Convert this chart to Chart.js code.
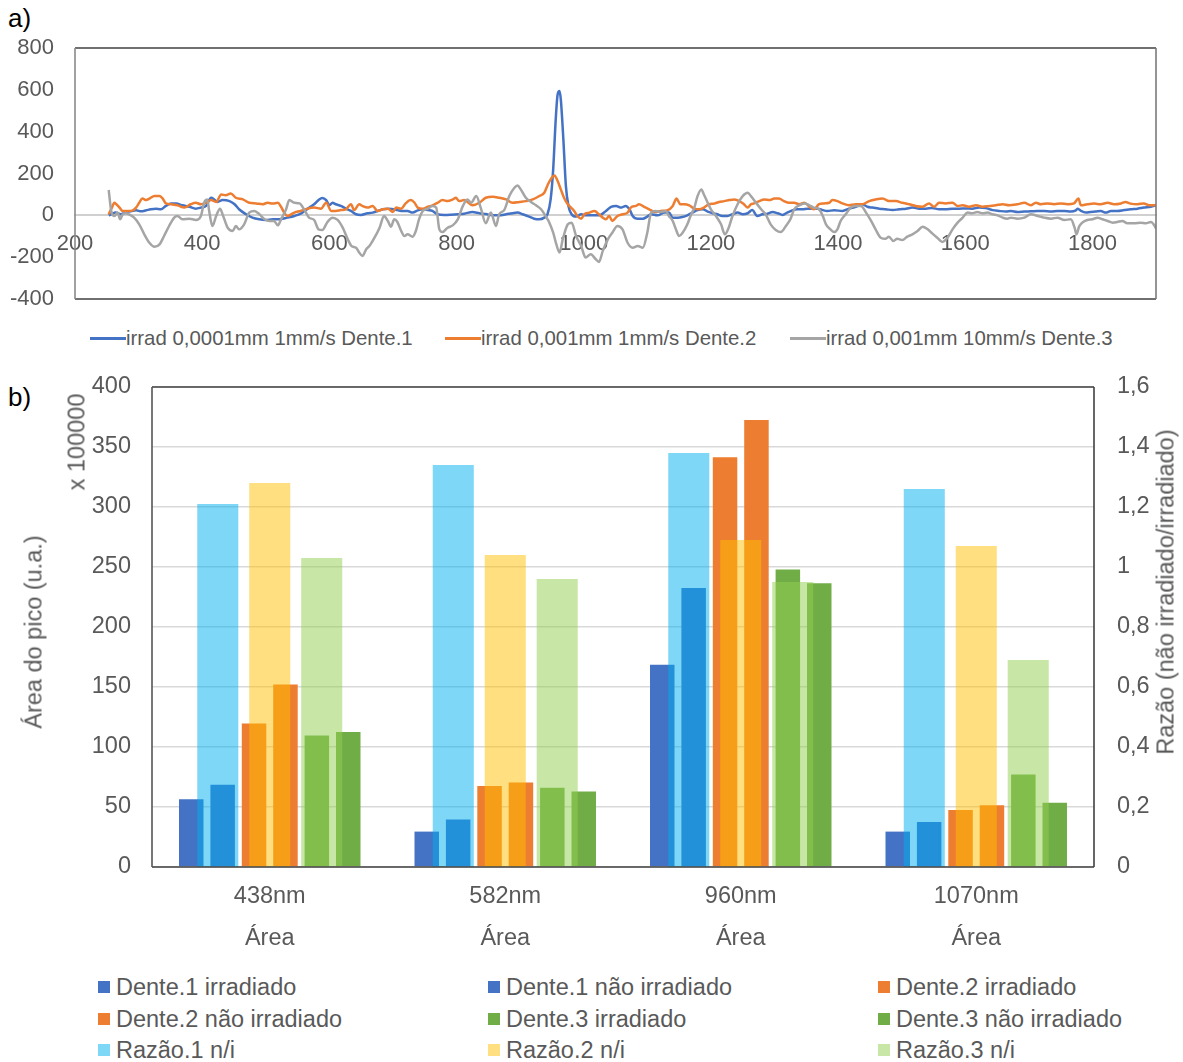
<!DOCTYPE html>
<html>
<head>
<meta charset="utf-8">
<title>Espectros e áreas dos picos</title>
<script src="https://cdn.jsdelivr.net/npm/chart.js@4.4.1/dist/chart.umd.min.js"></script>
<style>
  body { margin: 0; background: #fff; }
  #wrap { position: relative; width: 1183px; height: 1062px; overflow: hidden;
          font-family: "Liberation Sans", Arial, sans-serif; color: #595959; }
  #wrap canvas { position: absolute; left: 0; }
  .panel { position: absolute; left: 8px; font-size: 26px; line-height: 26px; color: #000; }
  .rot { position: absolute; white-space: nowrap; transform: translate(-50%, -50%) rotate(-90deg); }
  .lg { position: absolute; white-space: nowrap; }
  .lgLine { position: absolute; height: 3px; }
  .lgBox { position: absolute; width: 12px; height: 12px; }
</style>
</head>
<body>
<div id="wrap">
  <div class="panel" style="top:5px">a)</div>
  <canvas id="spectra" width="1183" height="320" style="top:0"></canvas>
  <div id="legendA"></div>

  <div class="panel" style="top:384px">b)</div>
  <canvas id="areas" width="1183" height="600" style="top:360px"></canvas>
  <canvas id="ratios" width="1183" height="600" style="top:360px"></canvas>
  <div class="rot" style="left:34px; top:632px; font-size:23.5px">Área do pico (u.a.)</div>
  <div class="rot" style="left:77px; top:442px; font-size:23.5px">x 100000</div>
  <div class="rot" style="left:1166px; top:592px; font-size:23.5px">Razão (não irradiado/irradiado)</div>
  <div id="legendB"></div>
</div>

<script>
// ---- a) spectra: [wavenumber, intensity] ----
const dente1Spectrum = [
  [253,0],[257,5],[264,13],[272,5],[280,16],[288,19],[296,24],[304,19],[312,24],[319,29],[327,32],[335,29],
  [343,45],[351,56],[359,56],[369,48],[380,41],[390,32],[398,37],[406,45],[414,84],[419,76],[424,64],[432,73],
  [443,68],[451,53],[458,29],[469,5],[479,-11],[490,-19],[500,-22],[511,-19],[521,-19],
  [534,-11],[545,-3],[555,8],[566,32],[576,53],[584,76],[589,83],[595,73],[600,48],[605,60],[610,53],[618,45],
  [626,32],[634,21],[642,5],[650,2],[660,10],[668,13],[676,21],[684,29],[692,32],[700,29],[707,25],[715,21],
  [723,21],[731,13],[739,24],[747,29],[755,25],[762,21],[770,5],[781,2],[791,3],[802,5],[812,8],
  [825,16],[836,10],[846,6],[857,0],[867,0],[878,5],[888,10],[896,13],[904,5],[914,-6],[922,-16],[930,-19],
  [938,-11],[943,5],[948,76],[952,220],[956,459],[959,578],[962,594],[964,554],[968,363],[972,140],[976,45],
  [981,5],[988,-6],[996,5],[1003,0],[1014,0],[1024,0],[1035,21],[1043,41],[1051,45],[1059,37],[1066,45],
  [1072,29],[1077,-3],[1085,-16],[1093,-16],[1100,-6],
  [1106,5],[1116,0],[1127,13],[1134,13],[1140,-11],[1148,-11],[1155,-8],[1163,0],[1171,13],[1179,25],[1187,29],
  [1195,18],[1203,10],[1210,5],[1218,-3],[1226,-3],[1234,5],[1242,13],[1250,5],[1258,10],[1265,25],[1273,-3],
  [1281,5],[1289,8],[1297,16],[1305,10],[1313,2],[1320,13],[1328,24],[1336,29],[1344,29],[1352,32],[1360,32],
  [1368,32],[1376,25],[1383,21],[1394,24],
  [1407,21],[1417,32],[1428,41],[1438,53],[1446,41],[1454,37],[1465,32],[1475,29],[1486,25],[1496,29],[1507,32],
  [1517,37],[1528,32],[1538,32],[1548,35],[1559,29],[1569,29],[1580,32],[1590,32],[1601,33],[1611,32],[1622,37],
  [1632,35],[1643,25],[1653,21],[1664,18],
  [1672,21],[1682,16],[1693,18],[1703,19],[1714,21],[1724,21],[1735,18],[1745,21],[1756,21],[1766,18],[1774,24],
  [1777,32],[1782,21],[1790,13],[1797,16],[1805,18],[1813,21],[1821,13],[1829,21],[1839,21],[1850,25],[1860,29],
  [1871,32],[1881,37],[1892,41],[1900,48]
];

const dente2Spectrum = [
  [253,5],[258,37],[262,60],[265,53],[270,37],[275,21],[283,21],[291,24],[296,37],[301,60],[306,80],[312,73],
  [317,80],[325,92],[333,92],[338,80],[343,57],[351,53],[361,48],[372,37],[382,53],[390,60],[398,53],[406,60],
  [414,73],[422,64],[430,100],[437,96],[445,104],[453,84],[464,76],[474,60],[485,57],[495,53],[503,60],[511,56],
  [519,60],
  [524,41],[529,13],[534,-3],[545,13],[555,21],[566,32],[576,37],[587,32],[595,60],[603,21],[610,21],[618,25],
  [626,29],[634,53],[639,25],[647,53],[652,45],[660,37],[668,45],[676,21],[684,29],[692,32],[700,16],[705,37],
  [713,32],[720,57],[728,73],[734,60],[739,37],[747,32],[755,41],[762,48],[770,60],[778,73],[786,68],[794,76],
  [799,84],[804,68],[812,73],
  [825,48],[836,60],[846,84],[857,89],[867,84],[878,76],[888,60],[899,64],[909,68],[920,76],[930,92],[938,108],
  [943,143],[948,172],[954,191],[959,164],[964,124],[969,84],[975,53],[980,37],[985,21],[990,-3],[996,-16],
  [1001,5],[1009,13],[1017,21],[1024,5],[1030,-11],[1035,-19],[1040,-3],[1045,-27],[1053,-3],[1061,5],[1069,13],
  [1074,37],[1082,45],[1087,53],[1095,41],[1103,29],
  [1113,16],[1121,21],[1132,25],[1140,45],[1146,80],[1152,53],[1158,53],[1166,48],[1174,32],[1182,29],[1189,37],
  [1197,53],[1205,56],[1213,64],[1221,68],[1229,73],[1237,76],[1245,68],[1252,53],[1258,37],[1263,53],[1268,57],
  [1276,68],[1284,76],[1292,73],[1300,80],[1307,80],[1315,68],[1323,60],[1331,60],[1339,53],[1347,60],[1355,41],
  [1362,29],[1370,53],[1378,57],[1386,60],[1391,73],[1399,68],
  [1407,57],[1417,48],[1428,53],[1438,53],[1449,68],[1459,76],[1470,81],[1480,68],[1491,68],[1501,60],[1512,53],
  [1522,45],[1533,41],[1543,57],[1551,41],[1559,60],[1569,57],[1580,60],[1588,45],[1596,48],[1606,41],[1617,48],
  [1627,41],[1638,45],[1648,48],[1659,53],[1669,48],
  [1682,53],[1693,60],[1703,48],[1711,60],[1719,53],[1729,57],[1740,53],[1750,57],[1761,53],[1771,57],[1778,80],
  [1782,48],[1792,53],[1803,56],[1813,53],[1824,60],[1834,53],[1845,57],[1852,64],[1860,56],[1871,53],[1881,57],
  [1889,48],[1900,48]
];

const dente3Spectrum = [
  [253,121],[257,21],[262,-3],[267,13],[271,-19],[275,5],[280,10],[285,5],[293,-11],[301,-43],[309,-91],[317,-131],
  [325,-150],[333,-139],[340,-99],[348,-51],[356,-11],[361,-3],[369,-19],[380,-16],[390,-22],[398,-3],[403,60],
  [408,76],[411,21],[416,-51],[422,-3],[428,32],[433,-3],[440,-59],[448,-75],[453,-51],[458,-67],[466,-43],
  [474,13],[482,21],[490,5],[498,-19],[506,-27],[513,-27],[519,-48],
  [524,-19],[532,29],[537,73],[545,60],[553,57],[561,25],[568,-11],[576,-22],[583,-67],[589,-70],[597,-32],
  [605,-11],[613,-22],[621,-59],[629,-115],[635,-147],[642,-155],[647,-178],[652,-194],[658,-162],[663,-147],
  [671,-107],[679,-59],[686,-3],[692,-27],[697,-54],[702,-19],[707,-32],[713,-75],[718,-99],[723,-91],[731,-102],
  [736,-75],[741,-19],[747,21],[755,32],[762,45],[768,37],[773,-67],[778,-80],[786,-59],[794,-48],[802,-19],
  [810,45],[817,76],[823,60],
  [831,92],[838,37],[846,-38],[854,13],[862,-51],[867,5],[875,25],[883,92],[891,132],[896,143],[901,124],[909,84],
  [917,64],[925,48],[933,29],[940,-3],[946,-35],[952,-83],[957,-139],[962,-178],[967,-115],[975,-43],[981,-35],
  [988,-99],[996,-147],[1003,-202],[1011,-186],[1019,-210],[1024,-223],[1030,-170],[1038,-115],[1045,-83],
  [1053,-51],[1061,-67],[1069,-131],[1077,-155],[1085,-147],[1093,-155],[1100,-83],
  [1106,13],[1113,21],[1121,16],[1129,21],[1134,-3],[1140,-27],[1145,-67],[1150,-99],[1155,-86],[1163,-43],
  [1168,-3],[1174,37],[1179,92],[1185,124],[1189,100],[1195,60],[1200,29],[1208,-3],[1216,-43],[1222,-91],
  [1227,-67],[1234,-3],[1242,53],[1250,92],[1258,108],[1263,92],[1271,60],[1279,29],[1286,5],[1294,-43],
  [1302,-70],[1310,-80],[1318,-51],[1325,-19],[1331,29],[1339,48],[1347,57],[1355,48],[1362,37],[1370,29],
  [1376,-3],[1381,-43],[1388,-67],[1394,-80],[1399,-67],
  [1404,-27],[1412,5],[1420,37],[1428,45],[1436,45],[1444,13],[1452,-27],[1459,-67],[1467,-107],[1475,-112],
  [1480,-102],[1487,-123],[1493,-112],[1501,-118],[1509,-102],[1517,-91],[1525,-75],[1533,-54],[1541,-67],
  [1548,-86],[1556,-107],[1564,-127],[1572,-107],[1580,-67],[1588,-35],[1596,-11],[1604,13],[1611,10],[1619,16],
  [1627,10],[1635,13],[1643,5],[1651,0],[1659,-11],[1666,-16],
  [1672,-11],[1682,-16],[1693,-11],[1703,5],[1714,-3],[1724,-11],[1735,-16],[1745,-11],[1756,-22],[1766,-19],
  [1772,-59],[1775,-91],[1779,-54],[1784,-35],[1792,-22],[1800,-19],[1808,-11],[1816,-19],[1824,-27],[1832,-35],
  [1839,-32],[1847,-27],[1855,-38],[1866,-38],[1876,-35],[1884,-38],[1892,-32],[1898,-51],[1900,-64]
];

const spectrumNames = ['irrad 0,0001mm 1mm/s Dente.1', 'irrad 0,001mm 1mm/s Dente.2', 'irrad 0,001mm 10mm/s Dente.3'];
const spectrumColors = ['#4472C4', '#ED7D31', '#A5A5A5'];

// ---- b) peak areas (x 100000) and ratios ----
const categories = ['438nm', '582nm', '960nm', '1070nm'];
const groupLabel = 'Área';

const dente1Irradiado    = [56.5, 29.5, 168.5, 29.5];
const dente1NaoIrradiado = [68.5, 39.5, 232.5, 37.5];
const dente2Irradiado    = [119.5, 67.5, 341.5, 47.5];
const dente2NaoIrradiado = [152, 70.5, 372.5, 51.5];
const dente3Irradiado    = [109.5, 66, 248, 77];
const dente3NaoIrradiado = [112.5, 63, 236.5, 53.5];

const razao1 = [1.21, 1.34, 1.38, 1.26];
const razao2 = [1.28, 1.04, 1.09, 1.07];
const razao3 = [1.03, 0.96, 0.95, 0.69];

const areaNames  = ['Dente.1 irradiado', 'Dente.1 não irradiado', 'Dente.2 irradiado',
                    'Dente.2 não irradiado', 'Dente.3 irradiado', 'Dente.3 não irradiado'];
const areaColors = ['#4472C4', '#4472C4', '#ED7D31', '#ED7D31', '#70AD47', '#70AD47'];
const ratioNames  = ['Razão.1 n/i', 'Razão.2 n/i', 'Razão.3 n/i'];
const ratioColors = ['rgba(0,176,240,0.5)', 'rgba(255,192,0,0.5)', 'rgba(146,208,80,0.5)'];

// ---- shared styling ----
const FONT = '"Liberation Sans", Arial, sans-serif';
const TEXT = '#595959';

// a value axis whose labels may overhang the plot edges without shrinking it
const fixedWidth = w => s => { s.width = w; s.paddingTop = 0; s.paddingBottom = 0; };

// plot-area border, one colour per side
const framePlugin = {
  id: 'frame',
  afterDatasetsDraw(chart, args, o) {
    if (!o || !o.width) return;
    const { ctx, chartArea: a } = chart;
    ctx.save();
    ctx.lineWidth = o.width;
    const side = (x1, y1, x2, y2, c) => {
      ctx.strokeStyle = c; ctx.beginPath(); ctx.moveTo(x1, y1); ctx.lineTo(x2, y2); ctx.stroke();
    };
    side(a.left, a.top, a.right, a.top, o.top);
    side(a.left, a.bottom, a.right, a.bottom, o.bottom);
    side(a.left, a.top, a.left, a.bottom, o.left);
    side(a.right, a.top, a.right, a.bottom, o.right);
    ctx.restore();
  }
};

// ---- chart a) ----
const spectra = [dente1Spectrum, dente2Spectrum, dente3Spectrum];
new Chart(document.getElementById('spectra'), {
  type: 'line',
  plugins: [framePlugin],
  data: {
    datasets: spectra.map((s, i) => ({
      label: spectrumNames[i],
      data: s.map(([x, y]) => ({ x, y })),
      borderColor: spectrumColors[i],
      backgroundColor: spectrumColors[i],
      borderWidth: 2.5,
      pointRadius: 0,
      fill: false,
      cubicInterpolationMode: 'monotone',
      order: 3 - i
    }))
  },
  options: {
    responsive: false, animation: false, devicePixelRatio: 1,
    layout: { padding: { left: 0, right: 27, top: 48, bottom: 21 } },
    plugins: {
      legend: { display: false }, tooltip: { enabled: false },
      frame: { width: 1.6, top: '#404040', bottom: '#404040', left: '#8a8a8a', right: '#7a7a7a' }
    },
    scales: {
      x: {
        type: 'linear', position: { y: 0 }, min: 200, max: 1900,
        ticks: { stepSize: 200, includeBounds: false, autoSkip: false, maxRotation: 0, padding: 15,
                 color: TEXT, font: { family: FONT, size: 22 }, callback: v => String(v) },
        grid: { display: false, drawTicks: false },
        border: { display: true, color: '#D0D0D0', width: 2 },
        afterFit(s) { s.height = 0; }
      },
      y: {
        min: -400, max: 800,
        ticks: { stepSize: 200, padding: 21, color: TEXT, font: { family: FONT, size: 22 }, callback: v => String(v) },
        grid: { display: false, drawTicks: false },
        border: { display: false },
        afterFit: fixedWidth(75)
      }
    }
  }
});

// legend a)
(function () {
  const host = document.getElementById('legendA');
  const lineX = [90, 445, 790];
  spectrumNames.forEach((name, i) => {
    const ln = document.createElement('div');
    ln.className = 'lgLine';
    ln.style.cssText = `left:${lineX[i]}px;top:337px;width:36px;background:${spectrumColors[i]}`;
    host.appendChild(ln);
    const t = document.createElement('div');
    t.className = 'lg';
    t.style.cssText = `left:${lineX[i] + 36}px;top:326px;font-size:20.4px;line-height:24px`;
    t.textContent = name;
    host.appendChild(t);
  });
})();

// ---- chart b): peak areas underneath, translucent ratio bars on an overlaid canvas ----
const areaSeries = [dente1Irradiado, dente1NaoIrradiado, dente2Irradiado, dente2NaoIrradiado, dente3Irradiado, dente3NaoIrradiado];
const ratioSeries = [razao1, razao2, razao3];
const commaDecimal = v => String(Math.round(v * 10) / 10).replace('.', ',');
const barLabels = categories.map(c => [c, groupLabel]);

// both canvases share exactly the same axis boxes so their plot areas coincide
function panelScales(showAxes) {
  const tickFont = { family: FONT, size: 23.5 };
  return {
    x: {
      type: 'category', offset: true,
      ticks: { display: showAxes, padding: 9, maxRotation: 0, autoSkip: false, color: TEXT,
               font: { family: FONT, size: 23.5, lineHeight: 1.787 } },
      grid: { display: false, drawTicks: false },
      border: { display: false },
      afterFit(s) { s.height = 93; }
    },
    y: {
      position: 'left', min: 0, max: 400,
      ticks: { display: showAxes, stepSize: 50, padding: 21, color: TEXT, font: tickFont, callback: v => String(v) },
      grid: { display: showAxes, color: '#D9D9D9', lineWidth: 1.5, drawTicks: false },
      border: { display: false },
      afterFit: fixedWidth(152)
    },
    y2: {
      position: 'right', min: 0, max: 1.6,
      ticks: { display: showAxes, stepSize: 0.2, padding: 23, color: TEXT, font: tickFont, callback: commaDecimal },
      grid: { display: false, drawTicks: false },
      border: { display: false },
      afterFit: fixedWidth(89)
    }
  };
}

const panelOptions = (showAxes, frame) => ({
  responsive: false, animation: false, devicePixelRatio: 1,
  layout: { padding: { left: 0, right: 0, top: 27, bottom: 0 } },
  plugins: { legend: { display: false }, tooltip: { enabled: false }, frame },
  scales: panelScales(showAxes)
});

new Chart(document.getElementById('areas'), {
  type: 'bar',
  data: {
    labels: barLabels,
    datasets: areaSeries.map((vals, i) => ({
      label: areaNames[i], data: vals, backgroundColor: areaColors[i], borderWidth: 0,
      yAxisID: 'y', categoryPercentage: 0.80, barPercentage: 0.78
    }))
  },
  options: panelOptions(true, {})
});

new Chart(document.getElementById('ratios'), {
  type: 'bar',
  plugins: [framePlugin],
  data: {
    labels: barLabels,
    datasets: ratioSeries.map((vals, i) => ({
      label: ratioNames[i], data: vals, backgroundColor: ratioColors[i], borderWidth: 0,
      yAxisID: 'y2', categoryPercentage: 0.662, barPercentage: 0.79
    }))
  },
  options: panelOptions(false, { width: 1.6, top: '#404040', bottom: '#404040', left: '#555555', right: '#404040' })
});

// legend b)
(function () {
  const host = document.getElementById('legendB');
  const names = [...areaNames, ...ratioNames];
  const colors = [...areaColors, ...ratioColors];
  const colX = [98, 488, 878];
  const rowY = [987, 1019, 1050];
  names.forEach((name, i) => {
    const cx = colX[i % 3], cy = rowY[Math.floor(i / 3)];
    const sw = document.createElement('div');
    sw.className = 'lgBox';
    sw.style.cssText = `left:${cx}px;top:${cy - 6}px;background:${colors[i]}`;
    host.appendChild(sw);
    const t = document.createElement('div');
    t.className = 'lg';
    t.style.cssText = `left:${cx + 18}px;top:${cy - 15}px;font-size:23.5px;line-height:30px`;
    t.textContent = name;
    host.appendChild(t);
  });
})();
</script>
</body>
</html>
